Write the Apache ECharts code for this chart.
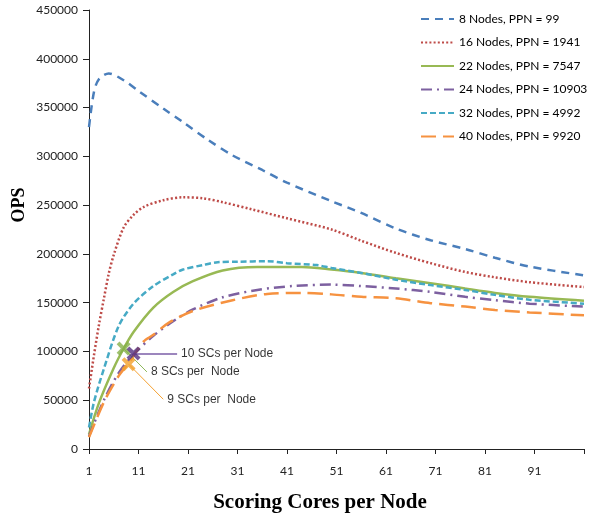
<!DOCTYPE html>
<html>
<head>
<meta charset="utf-8">
<script src="https://cdn.jsdelivr.net/npm/echarts@6/dist/echarts.min.js"></script>
<style>
  html, body { margin: 0; padding: 0; background: #fff; }
  #chart { width: 592px; height: 517px; }
</style>
</head>
<body>
<div id="chart"></div>
<script>
// series names
const names = [
  '8 Nodes, PPN = 99',
  '16 Nodes, PPN = 1941',
  '22 Nodes, PPN = 7547',
  '24 Nodes, PPN = 10903',
  '32 Nodes, PPN = 4992',
  '40 Nodes, PPN = 9920'
]

// [scoring cores per node, OPS]
const nodes8 = [[1,330000],[2,366000],[3,379000],[5,385000],[8,378000],[11,367000],[16,349000],[20,335000],[25,317000],[30,301000],[36,286000],[41,273000],[50,254000],[56,242000],[63,226000],[70,214000],[77,205000],[83,196000],[90,187000],[101,178000]]
const nodes16 = [[1,62000],[2,96000],[3,127000],[4,154000],[5,180000],[6,199000],[8,227000],[10,240000],[12,248000],[16,255000],[20,258000],[24,257000],[28,253000],[34,245500],[41,236500],[50,225000],[56,213500],[63,201000],[70,190500],[77,181500],[83,176000],[90,171000],[101,166000]]
const nodes22 = [[1,15000],[3,47000],[6,83000],[8,103000],[10,120000],[14,145000],[18,161000],[22,172000],[28,183000],[35,186500],[44,186500],[50,184000],[56,180500],[63,175000],[70,170000],[77,164500],[83,160000],[90,156000],[101,152000]]
const nodes24 = [[1,13000],[4,50000],[7,78000],[10,97000],[14,116000],[18,131000],[22,143000],[28,155500],[35,163000],[42,167000],[50,168500],[56,167000],[63,164500],[70,161000],[77,156000],[83,152500],[90,149000],[101,146000]]
const nodes32 = [[1,22000],[2,48000],[4,82000],[7,126000],[10,149000],[14,167000],[18,179000],[20,184000],[24,188500],[27,191500],[31,192000],[37,192500],[41,190500],[47,188500],[50,185500],[56,180500],[63,173500],[70,168000],[77,163000],[83,158000],[90,153000],[101,149000]]
const nodes40 = [[1,12000],[4,48000],[7,75000],[9,88000],[12,110000],[14,117000],[17,129000],[22,141500],[30,152500],[37,159000],[44,160000],[50,158500],[56,156000],[63,154500],[70,149500],[77,146000],[83,142500],[90,140000],[101,137000]]

// callouts: marked point and end of the pointer line
const notes = [
  { text: '8 SCs per  Node', mark: [8, 103000], tip: [12.7, 79000] },
  { text: '9 SCs per  Node', mark: [9, 87000], tip: [16, 51000] },
  { text: '10 SCs per Node', mark: [10, 98000], tip: [18.8, 98000] }
]

const xTicks = [1, 11, 21, 31, 41, 51, 61, 71, 81, 91, 101]
const xLabels = [1, 11, 21, 31, 41, 51, 61, 71, 81, 91]

const colors = ['#4A7EBB', '#BE4B48', '#98B954', '#7D60A0', '#46AAC5', '#F69240']
const dashes = [[8, 6], [2, 2.2], 'solid', [11, 5, 2, 5], [6, 3], [15, 7]]
const noteColors = ['#86B04A', '#F2A02A', '#54307F']
const noteLines = ['#8DB85A', '#F4A030', '#7B5EA7']

const crossPath = 'path://M2,0 L5,3 L8,0 L10,2 L7,5 L10,8 L8,10 L5,7 L2,10 L0,8 L3,5 L0,2 Z'

let chart = echarts.init(document.getElementById('chart'), null, { renderer: 'canvas' })

const lineSeries = [nodes8, nodes16, nodes22, nodes24, nodes32, nodes40].map((d, i) => ({
  name: names[i],
  type: 'line',
  data: d,
  symbol: 'none',
  smooth: 0.3,
  lineStyle: { color: colors[i], width: 2.5, type: dashes[i] },
  itemStyle: { color: colors[i] },
  z: 2
}))

const noteSeries = notes.map((n, i) => ({
  type: 'scatter',
  data: [n.mark],
  symbol: crossPath,
  symbolSize: 14,
  itemStyle: { color: noteColors[i] },
  z: 5,
  markLine: {
    silent: true,
    symbol: 'none',
    label: { show: false },
    lineStyle: { color: noteLines[i], width: i == 2 ? 1.5 : 1, type: 'solid' },
    data: [[{ coord: n.mark }, { coord: n.tip }]]
  }
}))

const noteText = {
  type: 'scatter',
  data: notes.map(n => ({ value: n.tip, name: n.text })),
  symbolSize: 0,
  label: {
    show: true,
    position: 'right',
    distance: 4,
    formatter: p => p.name,
    color: '#000',
    fontFamily: 'Liberation Sans',
    fontSize: 12
  },
  z: 6
}

chart.setOption({
  animation: false,
  grid: { left: 89, right: 8, top: 10, bottom: 68 },
  legend: {
    data: names,
    orient: 'vertical',
    left: 420,
    top: 13,
    padding: 0,
    itemWidth: 33,
    itemHeight: 14,
    itemGap: 11.5,
    itemStyle: { opacity: 0 },
    textStyle: { color: '#000', fontFamily: 'Lato', fontSize: 12 }
  },
  xAxis: {
    type: 'value',
    min: 1,
    max: 101,
    splitLine: { show: false },
    axisLine: { lineStyle: { color: '#222', width: 1 } },
    axisTick: { customValues: xTicks, length: 5, lineStyle: { color: '#222' } },
    axisLabel: { customValues: xLabels, margin: 16, color: '#222', fontFamily: 'Lato', fontSize: 12 }
  },
  yAxis: {
    type: 'value',
    min: 0,
    max: 450000,
    interval: 50000,
    splitLine: { show: false },
    axisLine: { show: true, lineStyle: { color: '#222', width: 1 } },
    axisTick: { show: true, length: 6, lineStyle: { color: '#222' } },
    axisLabel: { margin: 11, color: '#222', fontFamily: 'Lato', fontSize: 12, formatter: v => String(v) }
  },
  graphic: [
    {
      type: 'text',
      x: 19, y: 205,
      rotation: Math.PI / 2,
      style: { text: 'OPS', font: 'bold 18px "Liberation Serif"', fill: '#000', textAlign: 'center', textVerticalAlign: 'middle' }
    },
    {
      type: 'text',
      x: 320, y: 503,
      style: { text: 'Scoring Cores per Node', font: 'bold 21px "Liberation Serif"', fill: '#000', textAlign: 'center', textVerticalAlign: 'middle' }
    }
  ],
  series: [...lineSeries, ...noteSeries, noteText]
})
</script>
</body>
</html>
